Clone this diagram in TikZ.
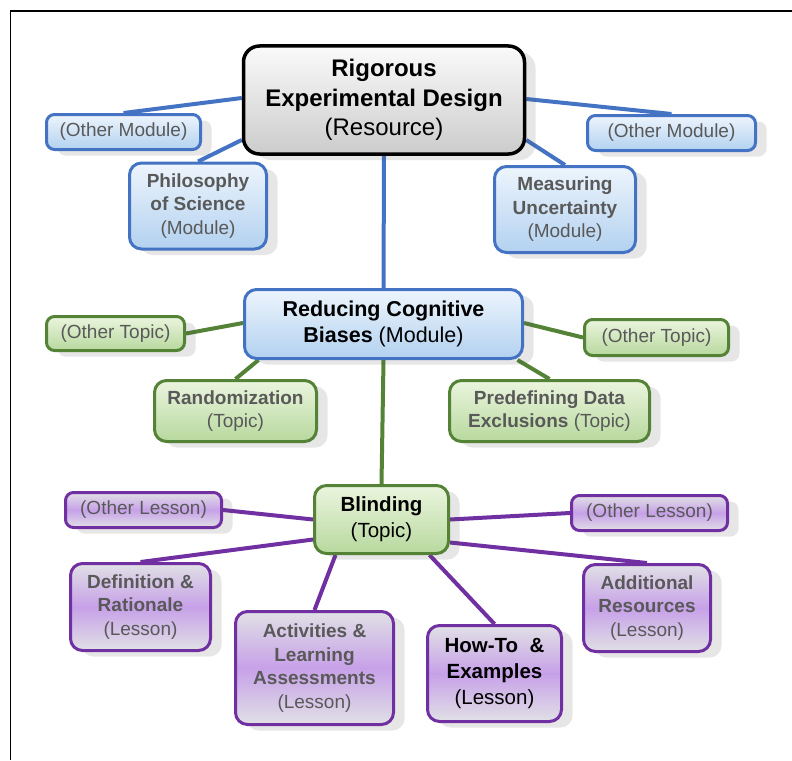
\documentclass[tikz,border=0pt]{standalone}
\usepackage{fontspec}
\setmainfont{Liberation Sans}
\usetikzlibrary{shapes,shadows,backgrounds}
\tikzset{
ashadow/.style={opacity=.14, shadow xshift=11pt, shadow yshift=-6pt, color=black!70},
}
\definecolor{CrA}{rgb}{0,0,0}
\definecolor{CrB}{rgb}{0.98,0.98,0.98}
\definecolor{CrC}{rgb}{0.80,0.80,0.80}
\definecolor{CmA}{rgb}{0.27,0.45,0.77}
\definecolor{CmB}{rgb}{0.93,0.96,0.99}
\definecolor{CmC}{rgb}{0.70,0.82,0.94}
\definecolor{CtA}{rgb}{0.33,0.51,0.21}
\definecolor{CtB}{rgb}{0.92,0.96,0.87}
\definecolor{CtC}{rgb}{0.72,0.85,0.62}
\definecolor{ClA}{rgb}{0.44,0.19,0.63}
\definecolor{ClB}{rgb}{0.88,0.88,0.90}
\definecolor{ClC}{rgb}{0.78,0.63,0.91}
\definecolor{Ctxt}{rgb}{0.35,0.35,0.35}
\tikzset{
abox/.style={rounded corners=12pt, line width=3pt, inner sep=0pt, align=center, text=Ctxt,
  drop shadow={ashadow}, font=\fontsize{19}{23.5}\selectfont},
resbox/.style={abox, draw=CrA, top color=CrB, bottom color=CrC, line width=3.5pt,
  rounded corners=16pt, text=black, font=\fontsize{24}{29.5}\selectfont},
modbox/.style={abox, draw=CmA, top color=CmB, bottom color=CmC},
topbox/.style={abox, draw=CtA, top color=CtB, bottom color=CtC},
lesbox/.style={abox, draw=ClA, top color=ClB, bottom color=ClB, middle color=ClC},
keybox/.style={text=black, font=\fontsize{20.5}{26}\selectfont},
othbox/.style={rounded corners=8pt},
modline/.style={draw=CmA, line width=4pt},
topline/.style={draw=CtA, line width=4pt},
lesline/.style={draw=ClA, line width=4pt},
}

\begin{document}
\begin{tikzpicture}[x=1pt,y=-1pt]
\useasboundingbox (0,0) rectangle (792,760);

\newcommand\mapnode[7]
{
% name: #1
% style: #2
% posX: #3
% posY: #4
% width: #5
% height: #6
% text: #7
\node[#2, minimum width=#5pt, minimum height=#6pt] (#1) at (#3,#4) {#7};
}

%% frame
\draw[line width=1.5pt] (792,11) -- (10.5,11) -- (10.5,760);

% --------------------------------------------------------

%% Resource
\mapnode{res}{resbox}{384}{100}{281}{108}{\textbf{Rigorous}\\\textbf{Experimental Design}\\(Resource)};

%% Modules
\mapnode{omodL}{modbox,othbox}{123.5}{132}{154}{35}{(Other Module)};
\mapnode{omodR}{modbox,othbox}{671.5}{133}{168}{35}{(Other Module)};
\mapnode{phil}{modbox}{198}{206}{137}{86}{\textbf{Philosophy}\\\textbf{of Science}\\(Module)};
\mapnode{meas}{modbox}{565}{209.5}{141}{86}{\textbf{Measuring}\\\textbf{Uncertainty}\\(Module)};
\mapnode{reduc}{modbox,keybox,font=\fontsize{21.5}{26}\selectfont}{383.5}{324}{278}{69}{\textbf{Reducing Cognitive}\\\textbf{Biases} (Module)};

% --------------------------------------------------------

%% Topics
\mapnode{otopL}{topbox,othbox}{115.5}{333.5}{138}{34}{(Other Topic)};
\mapnode{otopR}{topbox,othbox}{656.5}{337.5}{144}{36}{(Other Topic)};
\mapnode{rand}{topbox}{235.5}{411}{162}{61}{\textbf{Randomization}\\(Topic)};
\mapnode{pred}{topbox}{549.5}{411}{200}{61}{\textbf{Predefining Data}\\\textbf{Exclusions} (Topic)};
\mapnode{blind}{topbox,keybox}{381.5}{519.5}{134}{68}{\textbf{Blinding}\\(Topic)};

% --------------------------------------------------------

%% Lessons
\mapnode{olesL}{lesbox,othbox}{143.5}{510}{156}{35}{(Other Lesson)};
\mapnode{olesR}{lesbox,othbox}{649.5}{513}{156}{35}{(Other Lesson)};
\mapnode{defn}{lesbox}{140.5}{607}{140}{87}{\textbf{Definition \&}\\\textbf{Rationale}\\(Lesson)};
\mapnode{actv}{lesbox}{314.5}{668}{158}{113}{\textbf{Activities \&}\\\textbf{Learning}\\\textbf{Assessments}\\(Lesson)};
\mapnode{howto}{lesbox,keybox}{494.5}{673.5}{134}{96}{\textbf{How-To\ \ \&}\\\textbf{Examples}\\(Lesson)};
\mapnode{addl}{lesbox}{647}{608}{127}{87}{\textbf{Additional}\\\textbf{Resources}\\(Lesson)};

% --------------------------------------------------------

%% connectors
\begin{scope}[on background layer]
\draw[modline] ([yshift=2pt]res.west) -- (omodL.north);
\draw[modline] ([yshift=-40pt]res.west) -- (phil.north);
\draw[modline] ([yshift=1pt]res.east) -- (omodR.north);
\draw[modline] ([yshift=-40pt]res.east) -- (meas.north);
\draw[modline] (res.south) -- (reduc.north);

\draw[topline] ([yshift=1pt]reduc.west) -- (otopL.east);
\draw[topline] ([xshift=-125pt]reduc.south) -- (rand.north);
\draw[topline] ([yshift=1pt]reduc.east) -- (otopR.west);
\draw[topline] ([xshift=134pt]reduc.south) -- (pred.north);
\draw[topline] (reduc.south) -- (blind.north);

\draw[lesline] (blind.west) -- (olesL.east);
\draw[lesline] ([yshift=-20pt]blind.west) -- (defn.north);
\draw[lesline] ([xshift=-46pt]blind.south) -- (actv.north);
\draw[lesline] ([xshift=48pt]blind.south) -- (howto.north);
\draw[lesline] ([yshift=-23pt]blind.east) -- (addl.north);
\draw[lesline] (blind.east) -- (olesR.west);
\end{scope}
\end{tikzpicture}
\end{document}
